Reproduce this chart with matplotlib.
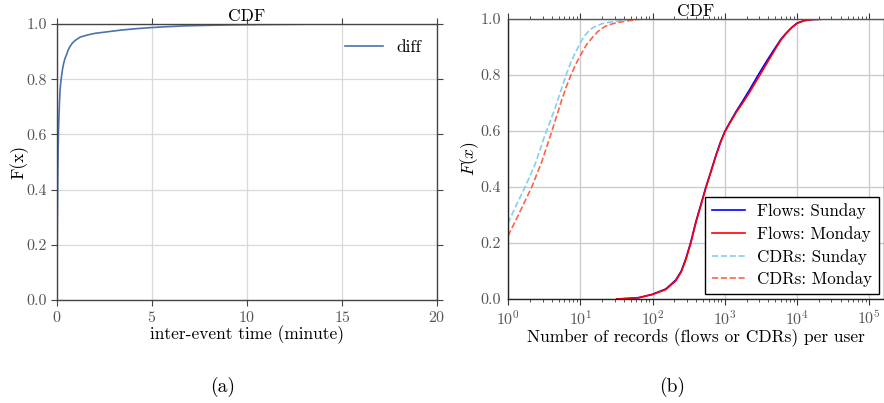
import numpy as np
import matplotlib
matplotlib.use("Agg")
import matplotlib.pyplot as plt

plt.rcParams['font.family'] = ['cmr10', 'DejaVu Serif']
plt.rcParams['mathtext.fontset'] = 'cm'
plt.rcParams['axes.formatter.use_mathtext'] = True

# ---- data (a): CDF of inter-event time ----
iet_x = [0, 0.02, 0.04, 0.06, 0.08, 0.105, 0.13, 0.16, 0.2, 0.245, 0.3, 0.36, 0.42, 0.5, 0.58, 0.68,
         0.8, 0.95, 1.21, 1.6, 2.0, 2.7, 3.4, 4.2, 5.0, 5.8, 6.7, 8.0, 9.5, 11, 13, 15]
iet_F = [0.1, 0.3, 0.45, 0.55, 0.62, 0.67, 0.715, 0.76, 0.79, 0.815, 0.84, 0.86, 0.875, 0.888, 0.905, 0.918,
         0.93, 0.94, 0.952, 0.96, 0.966, 0.972, 0.978, 0.983, 0.987, 0.99, 0.993, 0.995, 0.997, 0.998, 0.999, 1.0]

# ---- data (b): CDF of records per user ----
flows_x = [32, 45, 65, 100, 153, 210, 250, 290, 340, 398, 470, 548, 650, 755, 870, 1000, 1200, 1430,
           1800, 2190, 2700, 3340, 4150, 5110, 6000, 7040, 8400, 10000, 12500, 16500, 25000, 47900]
flows_sun = [0.0, 0.002, 0.005, 0.017, 0.036, 0.068, 0.10, 0.145, 0.205, 0.276, 0.34, 0.40, 0.46, 0.514, 0.56,
             0.598, 0.635, 0.669, 0.71, 0.746, 0.786, 0.826, 0.865, 0.901, 0.928, 0.949, 0.969, 0.985, 0.994, 0.998, 0.9995, 1.0]
flows_mon = [0.0, 0.002, 0.005, 0.016, 0.034, 0.065, 0.097, 0.141, 0.201, 0.272, 0.336, 0.397, 0.457, 0.511, 0.557,
             0.596, 0.632, 0.665, 0.703, 0.737, 0.776, 0.816, 0.857, 0.896, 0.925, 0.947, 0.968, 0.984, 0.994, 0.998, 0.9995, 1.0]

cdr_sun_x = [1.0, 1.25, 1.72, 2.37, 3.25, 4.48, 5.4, 6.49, 7.4, 8.47, 10, 11.7, 13.7, 16.0, 20, 27.3, 41.7, 70, 130]
cdr_sun = [0.27, 0.326, 0.40, 0.481, 0.586, 0.681, 0.745, 0.806, 0.845, 0.877, 0.915, 0.943, 0.962, 0.973, 0.983, 0.99, 0.996, 1.0, 1.0]
cdr_mon_x = [1.0, 1.39, 2.13, 2.93, 4.03, 5.54, 6.5, 7.62, 8.9, 10.4, 12.2, 14.4, 17.5, 21.9, 28, 37.6, 64, 120, 200]
cdr_mon = [0.225, 0.30, 0.40, 0.49, 0.598, 0.711, 0.762, 0.806, 0.845, 0.877, 0.908, 0.931, 0.955, 0.973, 0.983, 0.99, 0.999, 1.0, 1.0]

fig = plt.figure(figsize=(8.84, 4.03), dpi=100)

spine_col = '#444444'
grid_col = '#d9d9d9'

# ---------- panel (a) ----------
ax1 = fig.add_axes([0.0645, 0.2556, 0.430, 0.685])
ax1.plot(iet_x, iet_F, color='#4c72b0', lw=1.2, label='diff')
ax1.set_xlim(0, 20)
ax1.set_ylim(0, 1.0)
ax1.set_xticks([0, 5, 10, 15, 20])
ax1.set_yticks([0.0, 0.2, 0.4, 0.6, 0.8, 1.0])
ax1.set_yticklabels(['0.0', '0.2', '0.4', '0.6', '0.8', '1.0'])
ax1.grid(True, color=grid_col, lw=0.9)
ax1.set_axisbelow(True)
for s in ax1.spines.values():
    s.set_color(spine_col)
    s.set_linewidth(1.0)
ax1.tick_params(which='both', direction='out', length=4, color=spine_col,
                labelsize=11.5, labelcolor='#555555', top=True, right=True)
ax1.set_xlabel('inter-event time (minute)', fontsize=12.5, labelpad=0)
ax1.set_ylabel('F(x)', fontsize=12.5, labelpad=-2)
ax1.set_title('CDF', fontsize=12.5, pad=1)
ax1.legend(loc='upper right', frameon=False, fontsize=12.5, handlelength=2.2)

# ---------- panel (b) ----------
ax2 = fig.add_axes([0.5747, 0.258, 0.4253, 0.695])
ax2.plot(flows_x, flows_sun, color='blue', lw=1.2, label='Flows: Sunday')
ax2.plot(flows_x, flows_mon, color='red', lw=1.2, label='Flows: Monday')
ax2.plot(cdr_sun_x, cdr_sun, color='skyblue', lw=1.2, ls='--', label='CDRs: Sunday')
ax2.plot(cdr_mon_x, cdr_mon, color='tomato', lw=1.2, ls='--', label='CDRs: Monday')
ax2.set_xscale('log')
ax2.set_xlim(1, 1.6e5)
ax2.set_ylim(0, 1.0)
ax2.set_yticks([0.0, 0.2, 0.4, 0.6, 0.8, 1.0])
ax2.set_yticklabels(['0.0', '0.2', '0.4', '0.6', '0.8', '1.0'])
ax2.set_xticks([1, 10, 100, 1e3, 1e4, 1e5])
ax2.grid(True, which='major', color='#cccccc', lw=1.0)
ax2.set_axisbelow(True)
for s in ax2.spines.values():
    s.set_color('#222222')
    s.set_linewidth(1.0)
ax2.spines['top'].set_color('#555555')
ax2.tick_params(axis='x', which='major', direction='out', length=4, color='#333333',
                labelsize=11.5, labelcolor='#555555', top=True)
ax2.tick_params(axis='x', which='minor', direction='out', length=2.5, color='#333333', top=True)
ax2.tick_params(axis='y', length=0, labelsize=11.5, labelcolor='#555555', pad=5)
ax2.set_xlabel('Number of records (flows or CDRs) per user', fontsize=12.5, labelpad=0)
ax2.set_ylabel('$F(x)$', fontsize=12.5, labelpad=0)
ax2.set_title('CDF', fontsize=12.5, pad=0)
leg = ax2.legend(loc='lower right', fontsize=12.2, fancybox=False, framealpha=1,
                 edgecolor='black', borderaxespad=0.3, handlelength=2.0,
                 handletextpad=0.7, labelspacing=0.4, borderpad=0.4)
leg.get_frame().set_linewidth(1.0)

fig.text(0.252, 0.04, '(a)', fontsize=14, ha='center', va='center')
fig.text(0.760, 0.04, '(b)', fontsize=14, ha='center', va='center')

fig.savefig('out.png', dpi=100)
